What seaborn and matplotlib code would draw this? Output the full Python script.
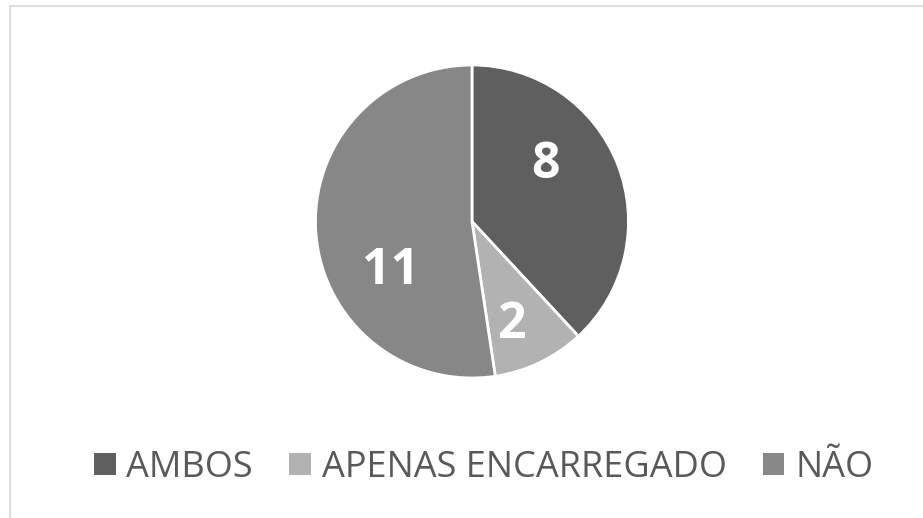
import numpy as np
import matplotlib.pyplot as plt
import seaborn as sns
from matplotlib.patches import Patch
from matplotlib.lines import Line2D

categories = ['AMBOS', 'APENAS ENCARREGADO', 'NÃO']
values = [8, 2, 11]
colors = ['#5f5f5f', '#b2b2b2', '#878787']

sns.set_theme(style="white")
plt.rcParams['font.family'] = ['Open Sans', 'DejaVu Sans']

fig = plt.figure(figsize=(9.23, 5.18), dpi=100)
ax = fig.add_axes([0.3418, 0.2703, 0.3391, 0.6042])

wedges, texts, autotexts = ax.pie(
    values, colors=colors, startangle=90, counterclock=False,
    autopct=lambda p: '{:.0f}'.format(p * sum(values) / 100),
    pctdistance=0.64,
    wedgeprops=dict(edgecolor='white', linewidth=2),
    textprops=dict(color='white', fontsize=36, fontweight='bold'))

# nudge labels toward Excel's best-fit placement (angle shift, radius)
label_shift = [(16, 0.59), (-5, 0.71), (27, 0.61)]
for w, t, (da, r) in zip(wedges, autotexts, label_shift):
    ang = np.deg2rad((w.theta1 + w.theta2) / 2 + da)
    t.set_position((r * np.cos(ang), r * np.sin(ang)))

ax.set_xlim(-1, 1)
ax.set_ylim(-1, 1)
ax.set_aspect('equal')

# legend
handles = [Patch(facecolor=c, edgecolor='none') for c in colors]
fig.legend(handles, categories, loc='center', bbox_to_anchor=(0.524, 0.097),
           ncol=3, frameon=False, fontsize=26, labelcolor='#595959',
           handlelength=0.6, handleheight=0.6, handletextpad=0.3,
           columnspacing=1.0)

# chart area border (left and top visible)
fig.add_artist(Line2D([0.0103, 0.0103], [0, 0.988], color='#d9d9d9', lw=1.2,
                      transform=fig.transFigure))
fig.add_artist(Line2D([0.0103, 1], [0.988, 0.988], color='#d9d9d9', lw=1.2,
                      transform=fig.transFigure))

fig.savefig('out.png', dpi=100)
